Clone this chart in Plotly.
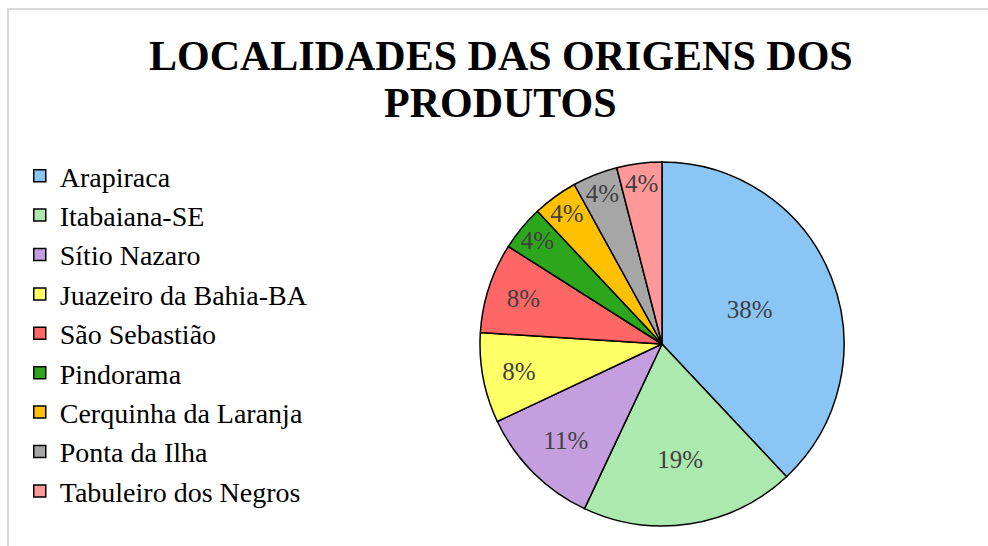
import plotly.graph_objects as go

labels = ["Arapiraca", "Itabaiana-SE", "Sítio Nazaro", "Juazeiro da Bahia-BA",
          "São Sebastião", "Pindorama", "Cerquinha da Laranja", "Ponta da Ilha",
          "Tabuleiro dos Negros"]
percent_values = [38, 19, 11, 8, 8, 4, 4, 4, 4]
colors = ["#8AC6F5", "#ABE9AE", "#C59EE0", "#FFFF66", "#FF6666",
          "#2CA61C", "#FFC000", "#A6A6A6", "#FF9999"]
title_lines = ["LOCALIDADES DAS ORIGENS DOS", "PRODUTOS"]

SERIF = "'Liberation Serif', 'Times New Roman', Times, serif"
W, H = 988, 546
cx, cy, r = 662, 344, 182

fig = go.Figure(go.Pie(
    labels=labels,
    values=percent_values,
    sort=False,
    direction="clockwise",
    rotation=0,
    marker=dict(colors=colors, line=dict(color="black", width=1.5)),
    texttemplate="%{value}%",
    textposition="inside",
    insidetextorientation="horizontal",
    textfont=dict(family=SERIF, size=25, color="#404040"),
    domain=dict(x=[(cx - r) / W, (cx + r) / W], y=[(H - cy - r) / H, (H - cy + r) / H]),
    hoverinfo="label+percent",
))

annotations = []
for i, line in enumerate(title_lines):
    annotations.append(dict(
        text="<b>%s</b>" % line, xref="paper", yref="paper",
        x=0.507, xanchor="center", y=(H - 56 - 47 * i) / H, yanchor="middle",
        showarrow=False, font=dict(family=SERIF, size=42, color="black"),
    ))

fig.update_layout(
    width=W, height=H,
    margin=dict(l=0, r=0, t=0, b=0),
    paper_bgcolor="white",
    annotations=annotations,
    legend=dict(
        x=0.02, xanchor="left", y=(H - 151) / H, yanchor="top",
        font=dict(family=SERIF, size=28, color="black"),
        bgcolor="rgba(0,0,0,0)",
        itemclick=False,
    ),
    uniformtext=dict(minsize=25, mode="show"),
    shapes=[dict(type="rect", xref="paper", yref="paper",
                 x0=8 / W, x1=1.02, y0=-0.02, y1=(H - 9) / H,
                 line=dict(color="#D9D9D9", width=2), fillcolor="rgba(0,0,0,0)",
                 layer="below")],
)

fig.write_html("out.html")
